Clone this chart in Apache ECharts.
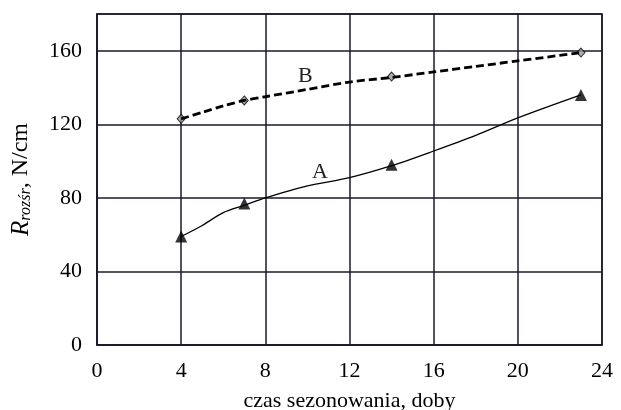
<!DOCTYPE html>
<html lang="pl">
<head>
    <meta charset="UTF-8">
    <title>R rozśr vs czas sezonowania</title>
    <script src="https://cdn.jsdelivr.net/npm/echarts@6.0.0/dist/echarts.min.js"></script>
    <style>
        body { margin: 0; background: #fff; }
        #chart { width: 621px; height: 410px; }
    </style>
</head>
<body>
    <div id="chart"></div>
    <script>
        // zmierzone punkty (znaczniki)
        const daysMeasured = [4, 7, 14, 23];
        const valuesA = [59, 77, 98, 136];
        const valuesB = [123, 133, 146, 159];

        // przebieg krzywych
        const curveA = [[4, 59], [5, 65], [6, 72], [7, 76], [8, 80], [10, 86.5], [12, 91], [14, 97.5], [16, 105.5], [18, 114], [20, 123.5], [23, 136]];
        const curveB = [[4, 123], [5, 126.5], [6, 130], [7, 133], [8, 135], [10, 139], [12, 143], [14, 145.5], [16, 148.5], [18, 151.5], [20, 154.5], [23, 159]];

        const xTicks = { min: 0, max: 24, interval: 4 };
        const yTicks = { min: 0, max: 180, interval: 40 };

        const font = 'Liberation Serif';
        const ink = '#1a1a2a';

        const chart = echarts.init(document.getElementById('chart'));
        chart.setOption({
            animation: false,
            grid: {
                left: 97, right: 19, top: 14, bottom: 65,
                outerBoundsMode: 'none',
                show: true, borderColor: ink, borderWidth: 1.5
            },
            xAxis: {
                type: 'value',
                min: xTicks.min, max: xTicks.max, interval: xTicks.interval,
                name: 'czas sezonowania, doby',
                nameLocation: 'middle',
                nameGap: 45,
                nameTextStyle: { fontFamily: font, fontSize: 22, color: '#000' },
                axisLine: { lineStyle: { color: ink, width: 1.5 } },
                axisTick: { show: false },
                axisLabel: { fontFamily: font, fontSize: 22, color: '#000', margin: 15 },
                splitLine: { lineStyle: { color: ink, width: 1.5 } }
            },
            yAxis: {
                type: 'value',
                min: yTicks.min, max: yTicks.max, interval: yTicks.interval,
                name: '{r|R}{s|rozśr}{n|, N/cm}',
                nameLocation: 'middle',
                nameGap: 63,
                nameRotate: 90,
                nameTextStyle: {
                    color: '#000',
                    rich: {
                        r: { fontFamily: font, fontSize: 25, fontStyle: 'italic', color: '#000' },
                        s: { fontFamily: font, fontSize: 16, fontStyle: 'italic', color: '#000', padding: [10, 0, 0, 0] },
                        n: { fontFamily: font, fontSize: 24, color: '#000' }
                    }
                },
                axisLine: { show: true, lineStyle: { color: ink, width: 1.5 } },
                axisTick: { show: false },
                axisLabel: { fontFamily: font, fontSize: 22, color: '#000', margin: 15, showMaxLabel: false },
                splitLine: { lineStyle: { color: ink, width: 1.5 } }
            },
            series: [
                {
                    name: 'A-krzywa',
                    type: 'line',
                    data: curveA,
                    smooth: 0.3,
                    showSymbol: false,
                    lineStyle: { color: '#000', width: 1.3 },
                    markPoint: {
                        symbol: 'circle', symbolSize: 1,
                        itemStyle: { color: 'transparent' },
                        label: { show: true, formatter: 'A', fontFamily: font, fontSize: 22, color: '#222' },
                        data: [{ coord: [10.6, 94] }]
                    }
                },
                {
                    name: 'B-krzywa',
                    type: 'line',
                    data: curveB,
                    smooth: 0.3,
                    showSymbol: false,
                    lineStyle: { color: '#000', width: 2.8, type: [8, 4] },
                    markPoint: {
                        symbol: 'circle', symbolSize: 1,
                        itemStyle: { color: 'transparent' },
                        label: { show: true, formatter: 'B', fontFamily: font, fontSize: 22, color: '#222' },
                        data: [{ coord: [9.9, 146] }]
                    }
                },
                {
                    name: 'A',
                    type: 'scatter',
                    data: daysMeasured.map((d, i) => [d, valuesA[i]]),
                    symbol: 'triangle',
                    symbolSize: 12,
                    itemStyle: { color: '#000' }
                },
                {
                    name: 'B',
                    type: 'scatter',
                    data: daysMeasured.map((d, i) => [d, valuesB[i]]),
                    symbol: 'diamond',
                    symbolSize: [8, 9],
                    itemStyle: { color: '#999', borderColor: '#000', borderWidth: 1 }
                }
            ]
        });
    </script>
</body>
</html>
